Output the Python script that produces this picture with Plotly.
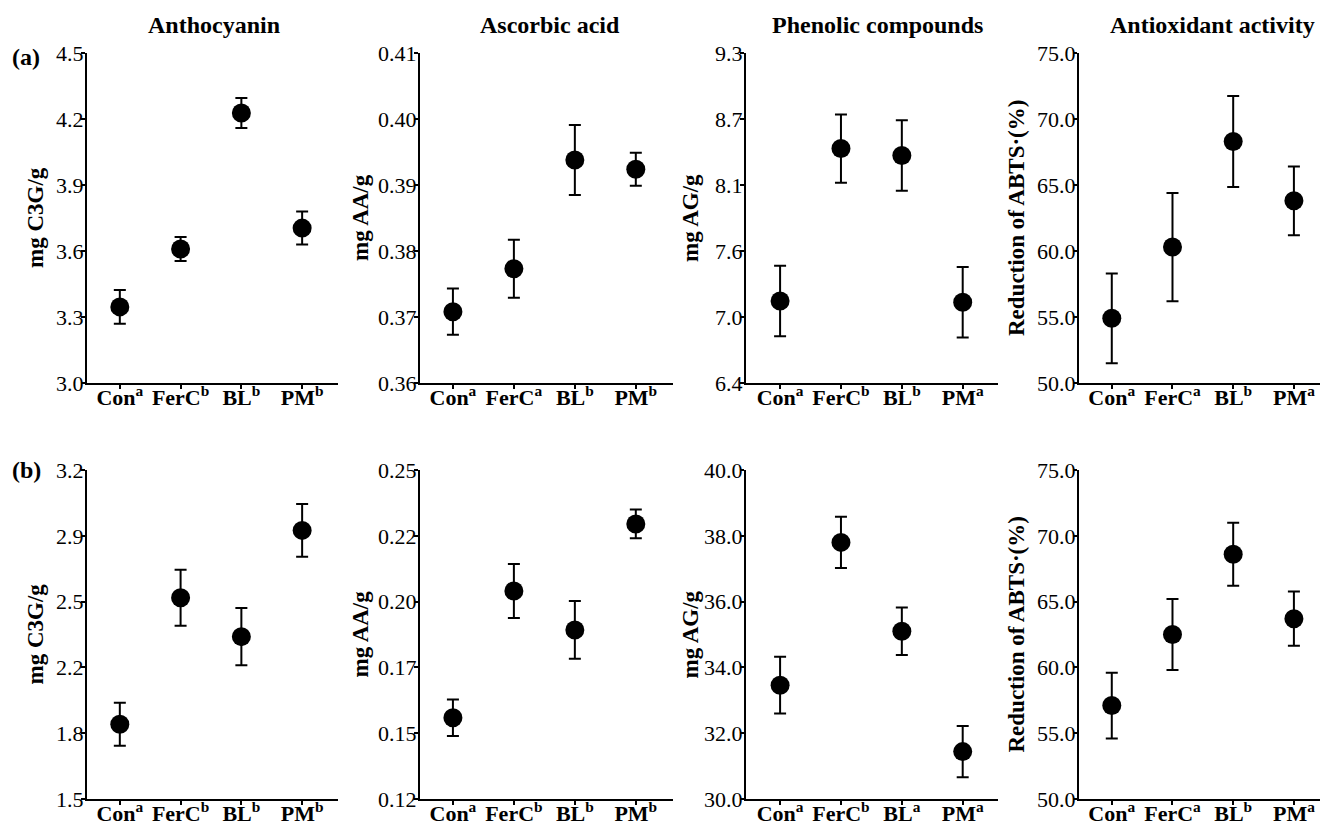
import numpy as np
import plotly.graph_objects as go
from plotly.subplots import make_subplots

# Treatments on the x axis
groups = ["Con", "FerC", "BL", "PM"]

panel_titles = ["Anthocyanin", "Ascorbic acid", "Phenolic compounds", "Antioxidant activity"]
y_titles = ["mg C3G/g", "mg AA/g", "mg AG/g", "Reduction of ABTS·(%)"]

# Row (a): means and standard deviations
a_anthocyanin = [3.346, 3.609, 4.227, 3.704]
a_anthocyanin_sd = [0.077, 0.055, 0.068, 0.075]
a_ascorbic = [0.3708, 0.3773, 0.3938, 0.3924]
a_ascorbic_sd = [0.0035, 0.0044, 0.0053, 0.0025]
a_phenolic = [7.12, 8.46, 8.40, 7.11]
a_phenolic_sd = [0.31, 0.30, 0.31, 0.31]
a_abts = [54.9, 60.3, 68.3, 63.8]
a_abts_sd = [3.4, 4.1, 3.45, 2.6]

# Row (b): means and standard deviations
b_anthocyanin = [1.886, 2.540, 2.339, 2.888]
b_anthocyanin_sd = [0.111, 0.145, 0.148, 0.136]
b_ascorbic = [0.1521, 0.2022, 0.1868, 0.2287]
b_ascorbic_sd = [0.0072, 0.0107, 0.0114, 0.0057]
b_phenolic = [33.46, 37.80, 35.10, 31.44]
b_phenolic_sd = [0.86, 0.78, 0.72, 0.78]
b_abts = [57.1, 62.5, 68.6, 63.7]
b_abts_sd = [2.5, 2.7, 2.4, 2.06]

# Significance letters per panel
a_letters = [["a", "b", "b", "b"], ["a", "a", "b", "b"], ["a", "b", "b", "a"], ["a", "a", "b", "a"]]
b_letters = [["a", "b", "b", "b"], ["a", "b", "b", "b"], ["a", "b", "a", "a"], ["a", "a", "b", "a"]]

# Y axis ranges and tick labels
a_ranges = [(3.0, 4.5), (0.36, 0.41), (6.4, 9.3), (50.0, 75.0)]
a_ticklabels = [
    ["3.0", "3.3", "3.6", "3.9", "4.2", "4.5"],
    ["0.36", "0.37", "0.38", "0.39", "0.40", "0.41"],
    ["6.4", "7.0", "7.6", "8.1", "8.7", "9.3"],
    ["50.0", "55.0", "60.0", "65.0", "70.0", "75.0"],
]
b_ranges = [(1.5, 3.2), (0.12, 0.25), (30.0, 40.0), (50.0, 75.0)]
b_ticklabels = [
    ["1.5", "1.8", "2.2", "2.5", "2.9", "3.2"],
    ["0.12", "0.15", "0.17", "0.20", "0.22", "0.25"],
    ["30.0", "32.0", "34.0", "36.0", "38.0", "40.0"],
    ["50.0", "55.0", "60.0", "65.0", "70.0", "75.0"],
]

rows = [
    dict(means=[a_anthocyanin, a_ascorbic, a_phenolic, a_abts],
         sds=[a_anthocyanin_sd, a_ascorbic_sd, a_phenolic_sd, a_abts_sd],
         letters=a_letters, ranges=a_ranges, ticklabels=a_ticklabels),
    dict(means=[b_anthocyanin, b_ascorbic, b_phenolic, b_abts],
         sds=[b_anthocyanin_sd, b_ascorbic_sd, b_phenolic_sd, b_abts_sd],
         letters=b_letters, ranges=b_ranges, ticklabels=b_ticklabels),
]

W, H = 1323, 828
FONT = "Liberation Serif"
INK = "#000000"

# Subplot placement in pixels
x_px = [(87, 338), (420, 673), (746, 998), (1079, 1320)]
y_px = [(53, 383), (470, 799)]
x_ranges = [(-0.54, 3.59), (-0.54, 3.61), (-0.56, 3.58), (-0.54, 3.43)]
ytitle_x = [35, 360, 690, 1016]
title_x = [214, 550, 877, 1212]

fig = make_subplots(rows=2, cols=4)

for r, row in enumerate(rows):
    for c in range(4):
        fig.add_trace(
            go.Scatter(
                x=list(range(len(groups))),
                y=row["means"][c],
                mode="markers",
                marker=dict(size=19, color=INK, symbol="circle"),
                error_y=dict(type="data", array=row["sds"][c], visible=True,
                             color=INK, thickness=2, width=6),
                showlegend=False,
                hoverinfo="skip",
            ),
            row=r + 1, col=c + 1,
        )
        lo, hi = row["ranges"][c]
        x0, x1 = x_px[c]
        y0, y1 = y_px[r]
        fig.update_xaxes(
            domain=[x0 / W, x1 / W],
            range=list(x_ranges[c]),
            tickvals=list(range(len(groups))),
            ticktext=[f"<b>{g}<sup>{l}</sup></b>" for g, l in zip(groups, row["letters"][c])],
            tickfont=dict(family=FONT, size=22, color=INK),
            ticklabelstandoff=-10,
            showline=True, linecolor=INK, linewidth=2,
            ticks="outside", ticklen=4, tickwidth=2, tickcolor=INK,
            showgrid=False, zeroline=False, automargin=False,
            row=r + 1, col=c + 1,
        )
        fig.update_yaxes(
            domain=[1 - y1 / H, 1 - y0 / H],
            range=[lo, hi],
            tickvals=list(np.linspace(lo, hi, len(row["ticklabels"][c]))),
            ticktext=row["ticklabels"][c],
            tickfont=dict(family=FONT, size=22, color=INK),
            ticklabelstandoff=-7,
            showline=True, linecolor=INK, linewidth=2,
            ticks="outside", ticklen=4, tickwidth=2, tickcolor=INK,
            showgrid=False, zeroline=False, automargin=False,
            row=r + 1, col=c + 1,
        )
        # Y axis title
        fig.add_annotation(
            x=ytitle_x[c] / W, y=1 - (y0 + y1) / 2 / H,
            xref="paper", yref="paper", xanchor="center", yanchor="middle",
            text=f"<b>{y_titles[c]}</b>", textangle=-90, showarrow=False,
            font=dict(family=FONT, size=23, color=INK),
        )

# Column titles
for c, t in enumerate(panel_titles):
    fig.add_annotation(
        x=title_x[c] / W, y=1 - 25 / H, xref="paper", yref="paper",
        xanchor="center", yanchor="middle", text=f"<b>{t}</b>", showarrow=False,
        font=dict(family=FONT, size=24, color=INK),
    )

# Row labels
for label, ypix in [("(a)", 57), ("(b)", 470)]:
    fig.add_annotation(
        x=26 / W, y=1 - ypix / H, xref="paper", yref="paper",
        xanchor="center", yanchor="middle", text=f"<b>{label}</b>", showarrow=False,
        font=dict(family=FONT, size=24, color=INK),
    )

fig.update_layout(
    width=W, height=H,
    margin=dict(l=0, r=0, t=0, b=0),
    paper_bgcolor="white", plot_bgcolor="white",
    showlegend=False,
)

fig.write_html("out.html")
